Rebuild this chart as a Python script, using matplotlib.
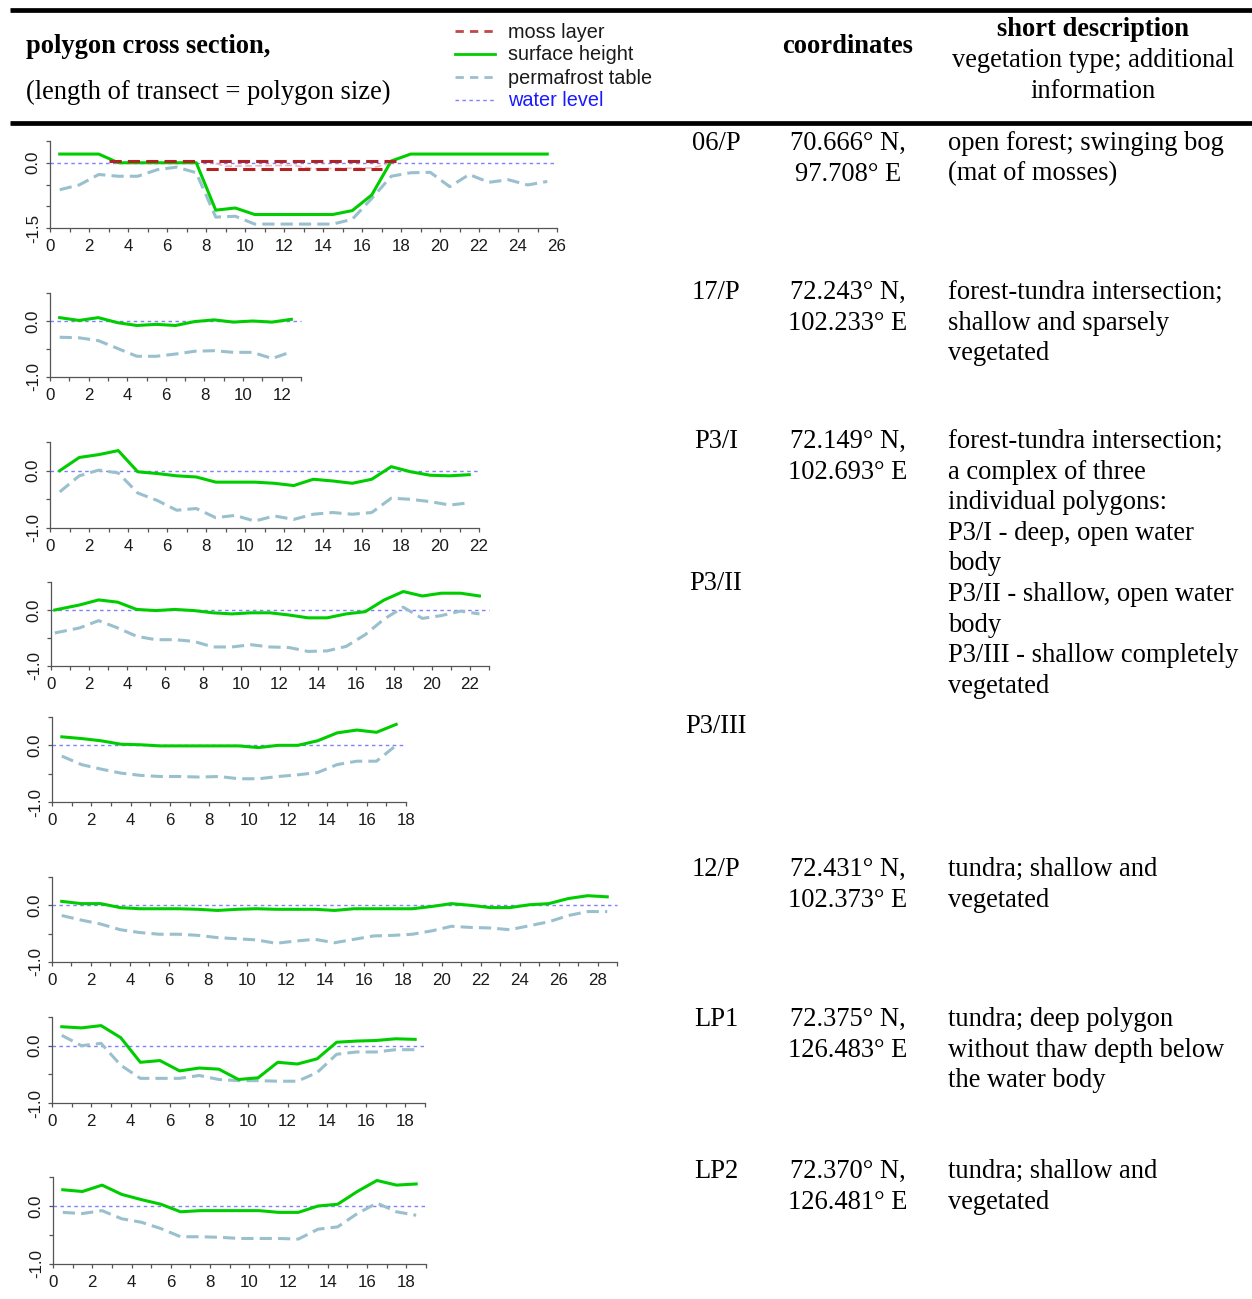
import matplotlib
matplotlib.use("Agg")
import matplotlib.pyplot as plt
from matplotlib.lines import Line2D
import numpy as np

W, H = 1252, 1299

SERIF = 'Liberation Serif'
SANS = 'Liberation Sans'

GREEN = '#00cd00'
PERMA = '#9ac0cd'
MOSS = '#b22222'
WATER = '#7f7fff'
AXIS = '#555555'

# ---- data: surface height / permafrost table per transect ----
x_06P = [0.5, 1.5, 2.5, 3.5, 4.5, 5.5, 6.5, 7.5, 8.5, 9.5, 10.5, 11.5, 12.5,
         13.5, 14.5, 15.5, 16.5, 17.5, 18.5, 19.5, 20.5, 21.5, 22.5, 23.5, 24.5, 25.5]
surf_06P = [0.2, 0.2, 0.2, 0.0, 0.0, 0.0, 0.0, 0.0, -1.09, -1.04, -1.19, -1.19, -1.19,
            -1.19, -1.19, -1.10, -0.74, 0.04, 0.2, 0.2, 0.2, 0.2, 0.2, 0.2, 0.2, 0.2]
perm_06P = [-0.62, -0.51, -0.27, -0.31, -0.31, -0.16, -0.10, -0.23, -1.25, -1.23, -1.41, -1.41, -1.41,
            -1.41, -1.41, -1.30, -0.82, -0.31, -0.23, -0.22, -0.55, -0.27, -0.45, -0.39, -0.51, -0.43]
moss_top_x = [3.0, 17.75]
moss_top_y = [0.05, 0.05]
moss_bot_x = [8.0, 17.0]
moss_bot_y = [-0.14, -0.14]
moss_faint_x = [8.0, 9.0, 12.5, 13.5, 16.5, 17.3]
moss_faint_y = [0.04, -0.08, -0.06, -0.14, -0.12, -0.03]

x_17P = [0.5, 1.5, 2.5, 3.5, 4.5, 5.5, 6.5, 7.5, 8.5, 9.5, 10.5, 11.5, 12.5]
surf_17P = [0.06, 0.01, 0.06, -0.03, -0.08, -0.06, -0.08, -0.01, 0.02, -0.02, 0.0, -0.02, 0.03]
perm_17P = [-0.29, -0.30, -0.35, -0.49, -0.63, -0.63, -0.59, -0.54, -0.53, -0.56, -0.56, -0.67, -0.55]

x_P3I = [0.5, 1.5, 2.5, 3.5, 4.5, 5.5, 6.5, 7.5, 8.5, 9.5, 10.5, 11.5, 12.5, 13.5,
         14.5, 15.5, 16.5, 17.5, 18.5, 19.5, 20.5, 21.5]
surf_P3I = [0.0, 0.23, 0.28, 0.35, -0.02, -0.05, -0.09, -0.11, -0.20, -0.20, -0.20, -0.22, -0.26, -0.15,
            -0.18, -0.22, -0.15, 0.07, -0.02, -0.08, -0.09, -0.07]
perm_P3I = [-0.37, -0.09, 0.01, -0.04, -0.39, -0.52, -0.69, -0.66, -0.82, -0.78, -0.88, -0.79, -0.85, -0.76,
            -0.73, -0.76, -0.73, -0.48, -0.50, -0.54, -0.60, -0.56]

x_P3II = [0.2, 1.5, 2.5, 3.5, 4.5, 5.5, 6.5, 7.5, 8.5, 9.5, 10.5, 11.5, 12.5, 13.5,
          14.5, 15.5, 16.5, 17.5, 18.5, 19.5, 20.5, 21.5, 22.5]
surf_P3II = [0.0, 0.09, 0.18, 0.14, 0.01, -0.01, 0.01, -0.01, -0.05, -0.07, -0.05, -0.05, -0.09, -0.14,
             -0.14, -0.07, -0.03, 0.18, 0.33, 0.25, 0.30, 0.30, 0.25]
perm_P3II = [-0.41, -0.32, -0.19, -0.32, -0.47, -0.53, -0.53, -0.56, -0.66, -0.66, -0.62, -0.66, -0.67, -0.74,
             -0.73, -0.65, -0.44, -0.16, 0.05, -0.15, -0.10, -0.02, -0.07]

x_P3III = [0.5, 1.5, 2.5, 3.5, 4.5, 5.5, 6.5, 7.5, 8.5, 9.5, 10.5, 11.5, 12.5, 13.5,
           14.5, 15.5, 16.5, 17.5]
surf_P3III = [0.15, 0.12, 0.08, 0.02, 0.01, -0.01, -0.01, -0.01, -0.01, -0.01, -0.04, 0.0, 0.0, 0.08,
              0.22, 0.27, 0.23, 0.37]
perm_P3III = [-0.19, -0.34, -0.42, -0.49, -0.53, -0.55, -0.55, -0.56, -0.55, -0.59, -0.59, -0.55, -0.52, -0.48,
              -0.34, -0.28, -0.28, 0.0]

x_12P = [0.5, 1.5, 2.5, 3.5, 4.5, 5.5, 6.5, 7.5, 8.5, 9.5, 10.5, 11.5, 12.5, 13.5, 14.5,
         15.5, 16.5, 17.5, 18.5, 19.5, 20.5, 21.5, 22.5, 23.5, 24.5, 25.5, 26.5, 27.5, 28.5]
surf_12P = [0.07, 0.03, 0.03, -0.04, -0.06, -0.06, -0.06, -0.07, -0.09, -0.07, -0.06, -0.07, -0.07, -0.07, -0.09,
            -0.06, -0.06, -0.06, -0.06, -0.02, 0.03, 0.0, -0.04, -0.04, 0.01, 0.03, 0.12, 0.17, 0.15]
perm_12P = [-0.18, -0.26, -0.33, -0.43, -0.48, -0.51, -0.51, -0.53, -0.57, -0.59, -0.61, -0.67, -0.63, -0.60, -0.66,
            -0.60, -0.54, -0.53, -0.51, -0.45, -0.37, -0.39, -0.40, -0.43, -0.36, -0.29, -0.18, -0.11, -0.11]

x_LP1 = [0.5, 1.5, 2.5, 3.5, 4.5, 5.5, 6.5, 7.5, 8.5, 9.5, 10.5, 11.5, 12.5, 13.5,
         14.5, 15.5, 16.5, 17.5, 18.5]
surf_LP1 = [0.33, 0.31, 0.35, 0.14, -0.29, -0.26, -0.44, -0.39, -0.41, -0.59, -0.56, -0.29, -0.32, -0.23,
            0.06, 0.08, 0.09, 0.12, 0.11]
perm_LP1 = [0.18, 0.0, 0.04, -0.34, -0.57, -0.57, -0.57, -0.52, -0.59, -0.61, -0.61, -0.62, -0.62, -0.47,
            -0.15, -0.11, -0.11, -0.07, -0.07]

x_LP2 = [0.5, 1.5, 2.5, 3.5, 4.5, 5.5, 6.5, 7.5, 8.5, 9.5, 10.5, 11.5, 12.5, 13.5,
         14.5, 15.5, 16.5, 17.5, 18.5]
surf_LP2 = [0.28, 0.25, 0.36, 0.20, 0.11, 0.03, -0.10, -0.08, -0.08, -0.08, -0.08, -0.11, -0.11, 0.0,
            0.03, 0.25, 0.44, 0.36, 0.38]
perm_LP2 = [-0.11, -0.13, -0.08, -0.22, -0.28, -0.39, -0.53, -0.53, -0.54, -0.56, -0.56, -0.56, -0.57, -0.40,
            -0.36, -0.13, 0.05, -0.10, -0.16]

# ---- table text ----
row_names = ['06/P', '17/P', 'P3/I', 'P3/II', 'P3/III', '12/P', 'LP1', 'LP2']
row_name_y = [141, 290, 439, 581, 724, 867, 1017, 1169]
coords = [['70.666° N,', '97.708° E'], ['72.243° N,', '102.233° E'], ['72.149° N,', '102.693° E'],
          [], [], ['72.431° N,', '102.373° E'], ['72.375° N,', '126.483° E'], ['72.370° N,', '126.481° E']]
descriptions = [
    ['open forest; swinging bog', '(mat of mosses)'],
    ['forest-tundra intersection;', 'shallow and sparsely', 'vegetated'],
    ['forest-tundra intersection;', 'a complex of three', 'individual polygons:',
     'P3/I - deep, open water', 'body', 'P3/II - shallow, open water', 'body',
     'P3/III - shallow completely', 'vegetated'],
    [], [],
    ['tundra; shallow and', 'vegetated'],
    ['tundra; deep polygon', 'without thaw depth below', 'the water body'],
    ['tundra; shallow and', 'vegetated'],
]
LINE_STEP = 30.6
TFS = 19.1

# panel layout in pixels: x0, x1, ytop, ybottom, xmax, ymin
panels = [
    (x_06P, surf_06P, perm_06P, (50, 557, 141, 228, 26, -1.5)),
    (x_17P, surf_17P, perm_17P, (50, 301, 293, 377, 13, -1.0)),
    (x_P3I, surf_P3I, perm_P3I, (50, 479, 442, 528, 22, -1.0)),
    (x_P3II, surf_P3II, perm_P3II, (51, 489, 582, 666, 23, -1.0)),
    (x_P3III, surf_P3III, perm_P3III, (52, 406, 717, 802, 18, -1.0)),
    (x_12P, surf_12P, perm_12P, (52, 617, 877, 962, 29, -1.0)),
    (x_LP1, surf_LP1, perm_LP1, (52, 425, 1017, 1103, 19, -1.0)),
    (x_LP2, surf_LP2, perm_LP2, (53, 426, 1177, 1264, 19, -1.0)),
]


def fx(px):
    return px / W


def fy(py):
    return 1 - py / H


def hline(fig, x0, x1, y, lw, **kw):
    fig.add_artist(Line2D([fx(x0), fx(x1)], [fy(y), fy(y)], transform=fig.transFigure, lw=lw, **kw))


def draw_panel(fig, xs, surf, perm, geom):
    x0, x1, yt, yb, xmax, ymin = geom
    ax = fig.add_axes([fx(x0), fy(yb), (x1 - x0) / W, (yb - yt) / H])
    ax.set_xlim(0, xmax)
    ax.set_ylim(ymin, 0.5)
    ax.patch.set_alpha(0)

    ax.plot([0, xmax], [0, 0], color=WATER, lw=1.0, dashes=(2.5, 2.5), clip_on=False, zorder=1)
    ax.plot(xs, perm, color=PERMA, lw=2.2, dashes=(4, 2), clip_on=False, zorder=2)
    ax.plot(xs, surf, color=GREEN, lw=2.2, clip_on=False, zorder=3)

    for s in ['top', 'right']:
        ax.spines[s].set_visible(False)
    for s in ['left', 'bottom']:
        ax.spines[s].set_color(AXIS)
        ax.spines[s].set_linewidth(0.9)

    xt = list(range(0, xmax + 1))
    ax.set_xticks(xt)
    ax.set_xticklabels([str(i) if i % 2 == 0 else '' for i in xt])
    yt_vals = np.arange(ymin, 0.51, 0.5)
    ax.set_yticks(yt_vals)
    ax.set_yticklabels(['%.1f' % v if (abs(v) < 1e-9 or abs(v - ymin) < 1e-9) else '' for v in yt_vals])
    ax.tick_params(direction='out', length=2.6, width=0.9, color=AXIS,
                   labelsize=12.2, labelcolor='#1a1a1a')
    ax.tick_params(axis='x', pad=5.5)
    ax.tick_params(axis='y', pad=4)
    for lab in ax.get_yticklabels():
        lab.set_rotation(90)
        lab.set_va('center')
        lab.set_fontfamily(SANS)
    for lab in ax.get_xticklabels():
        lab.set_fontfamily(SANS)
    return ax


fig = plt.figure(figsize=(W / 100, H / 100), dpi=100)

# header rules
hline(fig, 10, 1252, 10, 3.4, color='black', solid_capstyle='butt')
hline(fig, 10, 1252, 123, 3.4, color='black', solid_capstyle='butt')

# header texts
fig.text(fx(26), fy(53), 'polygon cross section,', family=SERIF, weight='bold', fontsize=TFS, va='baseline')
fig.text(fx(26), fy(99), '(length of transect = polygon size)', family=SERIF, fontsize=TFS, va='baseline')
fig.text(fx(848), fy(53), 'coordinates', family=SERIF, weight='bold', fontsize=TFS, va='baseline', ha='center')
fig.text(fx(1093), fy(36), 'short description', family=SERIF, weight='bold', fontsize=TFS, va='baseline', ha='center')
fig.text(fx(1093), fy(67), 'vegetation type; additional', family=SERIF, fontsize=TFS, va='baseline', ha='center')
fig.text(fx(1093), fy(98), 'information', family=SERIF, fontsize=TFS, va='baseline', ha='center')

# legend
leg_items = [('moss layer', '#c04848', (3, 2.2), 2.0, '#1a1a1a'),
             ('surface height', GREEN, None, 2.0, '#1a1a1a'),
             ('permafrost table', PERMA, (3, 2.2), 2.0, '#1a1a1a'),
             ('water level', WATER, (2.5, 2.5), 1.0, '#1a1aff')]
leg_y = [31, 54, 77, 100]
for (lab, col, dash, lw, tcol), yy in zip(leg_items, leg_y):
    kw = dict(color=col, lw=lw)
    if dash is not None:
        kw['dashes'] = dash
    fig.add_artist(Line2D([fx(455), fx(495)], [fy(yy), fy(yy)], transform=fig.transFigure, **kw))
    fig.text(fx(508), fy(yy + 6.5), lab, family=SANS, fontsize=14.3, color=tcol, va='baseline')

# panels
axes = []
for xs, surf, perm, geom in panels:
    axes.append(draw_panel(fig, xs, surf, perm, geom))

# moss layer in 06/P
ax0 = axes[0]
ax0.plot(moss_faint_x, moss_faint_y, color='#f2b8b8', lw=1.2, dashes=(4, 2), zorder=2)
ax0.plot(moss_top_x, moss_top_y, color=MOSS, lw=2.2, dashes=(4, 2), zorder=4)
ax0.plot(moss_bot_x, moss_bot_y, color=MOSS, lw=2.2, dashes=(4, 2), zorder=4)

# table rows
for name, ny, cc, dd in zip(row_names, row_name_y, coords, descriptions):
    base = ny + 9
    fig.text(fx(716), fy(base), name, family=SERIF, fontsize=TFS, ha='center', va='baseline')
    for i, c in enumerate(cc):
        fig.text(fx(848), fy(base + i * LINE_STEP), c, family=SERIF, fontsize=TFS, ha='center', va='baseline')
    for i, d in enumerate(dd):
        fig.text(fx(948), fy(base + i * LINE_STEP), d, family=SERIF, fontsize=TFS, ha='left', va='baseline')

fig.savefig('out.png', dpi=100)
